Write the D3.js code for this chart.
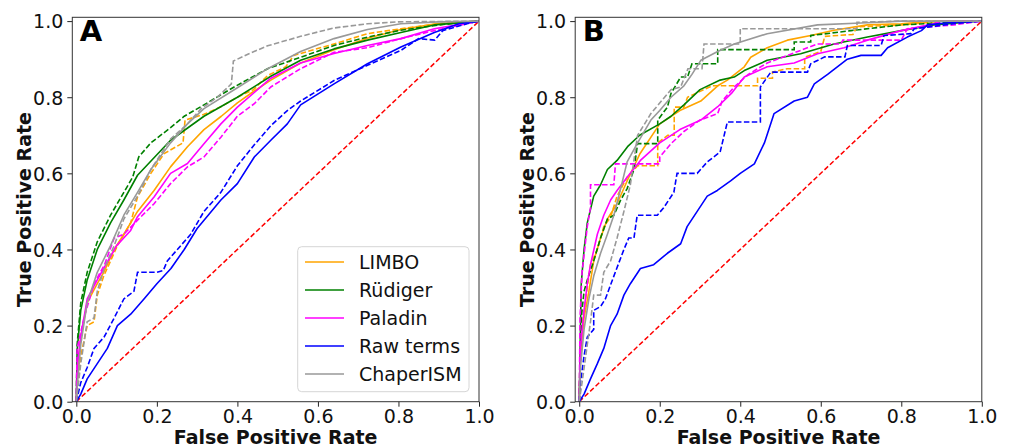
<!DOCTYPE html>
<html>
<head>
<meta charset="utf-8">
<script src="https://cdn.jsdelivr.net/npm/d3@7"></script>
<style>
  html, body { margin: 0; padding: 0; background: #fff; }
  svg { display: block; font-family: "DejaVu Sans", sans-serif; }
</style>
</head>
<body>
<svg id="chart" width="1011" height="448"></svg>
<script>
// ---------------- DATA ----------------
const panels = ["A", "B"];
const methods = ["LIMBO", "Rüdiger", "Paladin", "Raw terms", "ChaperISM"];
const methodColors = ["#ffa500", "#008000", "#ff00ff", "#0000ff", "#999999"];
const tickValues = [0, 0.2, 0.4, 0.6, 0.8, 1.0];
const tickLabels = ["0.0", "0.2", "0.4", "0.6", "0.8", "1.0"];
const xTitle = "False Positive Rate";
const yTitle = "True Positive Rate";
const chanceLine = [[0, 0], [1, 1]];

// Panel A  [FPR, TPR]
const limboA = [[0,0],[0.003,0.08],[0.011,0.17],[0.027,0.26],[0.052,0.31],[0.068,0.34],[0.094,0.40],[0.118,0.44],[0.152,0.50],[0.193,0.555],[0.234,0.617],[0.276,0.67],[0.317,0.715],[0.36,0.75],[0.4,0.785],[0.44,0.815],[0.483,0.845],[0.557,0.89],[0.64,0.925],[0.723,0.955],[0.806,0.978],[0.889,0.992],[1,1]];
const limboA_alt = [[0,0],[0.011,0.12],[0.027,0.20],[0.044,0.21],[0.052,0.28],[0.068,0.33],[0.102,0.41],[0.135,0.47],[0.152,0.538],[0.185,0.60],[0.218,0.652],[0.265,0.68],[0.27,0.74],[0.317,0.755],[0.359,0.775],[0.4,0.80],[0.44,0.82],[0.475,0.857],[0.52,0.88],[0.54,0.91],[0.64,0.94],[0.723,0.967],[0.806,0.98],[0.9,0.993],[1,1]];
const rudigerA = [[0,0],[0.002,0.135],[0.011,0.24],[0.027,0.32],[0.052,0.40],[0.085,0.47],[0.118,0.53],[0.152,0.595],[0.234,0.687],[0.317,0.75],[0.4,0.80],[0.483,0.855],[0.557,0.897],[0.64,0.927],[0.723,0.95],[0.806,0.97],[0.889,0.99],[1,1]];
const rudigerA_alt = [[0,0],[0.002,0.15],[0.011,0.26],[0.027,0.34],[0.052,0.42],[0.085,0.49],[0.118,0.55],[0.14,0.59],[0.155,0.643],[0.185,0.68],[0.234,0.72],[0.268,0.75],[0.317,0.78],[0.392,0.827],[0.475,0.875],[0.557,0.905],[0.64,0.936],[0.723,0.958],[0.806,0.976],[0.9,0.99],[1,1]];
const paladinA = [[0,0],[0.003,0.10],[0.011,0.17],[0.027,0.27],[0.052,0.32],[0.068,0.35],[0.1,0.41],[0.135,0.45],[0.152,0.486],[0.193,0.538],[0.234,0.60],[0.276,0.626],[0.317,0.678],[0.359,0.73],[0.4,0.774],[0.483,0.85],[0.557,0.89],[0.64,0.915],[0.723,0.936],[0.806,0.954],[0.889,0.98],[1,1]];
const paladinA_alt = [[0,0],[0.002,0.14],[0.019,0.22],[0.044,0.31],[0.07,0.36],[0.094,0.43],[0.118,0.44],[0.152,0.477],[0.193,0.52],[0.234,0.573],[0.276,0.617],[0.317,0.643],[0.359,0.695],[0.4,0.75],[0.442,0.783],[0.483,0.827],[0.557,0.875],[0.64,0.918],[0.723,0.93],[0.806,0.954],[0.889,0.975],[1,1]];
const rawA = [[0,0],[0.011,0.02],[0.027,0.06],[0.052,0.10],[0.077,0.14],[0.102,0.20],[0.135,0.23],[0.168,0.27],[0.2,0.31],[0.235,0.35],[0.268,0.40],[0.3,0.455],[0.359,0.53],[0.4,0.573],[0.442,0.643],[0.483,0.687],[0.524,0.73],[0.557,0.78],[0.64,0.835],[0.723,0.888],[0.806,0.932],[0.889,0.97],[0.95,0.993],[1,1]];
const rawA_alt = [[0,0],[0.011,0.05],[0.027,0.09],[0.044,0.14],[0.069,0.17],[0.094,0.22],[0.118,0.27],[0.143,0.29],[0.152,0.34],[0.2,0.34],[0.216,0.345],[0.226,0.37],[0.251,0.40],[0.284,0.44],[0.317,0.50],[0.359,0.55],[0.4,0.62],[0.442,0.675],[0.483,0.725],[0.524,0.765],[0.557,0.79],[0.64,0.844],[0.723,0.884],[0.806,0.923],[0.85,0.954],[0.89,0.95],[0.91,0.975],[0.97,0.993],[1,1]];
const chaperA = [[0,0],[0.003,0.05],[0.011,0.15],[0.027,0.26],[0.052,0.34],[0.085,0.41],[0.118,0.49],[0.152,0.55],[0.185,0.61],[0.234,0.68],[0.276,0.73],[0.317,0.77],[0.4,0.825],[0.475,0.875],[0.557,0.92],[0.64,0.954],[0.723,0.978],[0.806,0.993],[0.9,0.998],[1,1]];
const chaperA_alt = [[0,0],[0.011,0.10],[0.027,0.21],[0.044,0.22],[0.052,0.29],[0.069,0.35],[0.094,0.41],[0.118,0.48],[0.152,0.54],[0.185,0.61],[0.234,0.69],[0.276,0.73],[0.31,0.77],[0.35,0.80],[0.385,0.835],[0.39,0.895],[0.43,0.915],[0.475,0.935],[0.557,0.96],[0.64,0.982],[0.723,0.993],[0.8,0.998],[1,1]];

// Panel B  [FPR, TPR]
const limboB = [[0,0],[0.003,0.12],[0.012,0.22],[0.024,0.29],[0.036,0.37],[0.053,0.43],[0.07,0.48],[0.094,0.52],[0.119,0.58],[0.15,0.65],[0.2,0.73],[0.25,0.765],[0.302,0.79],[0.344,0.83],[0.368,0.845],[0.41,0.88],[0.426,0.905],[0.467,0.93],[0.517,0.95],[0.575,0.962],[0.633,0.976],[0.716,0.99],[0.8,0.993],[0.88,1],[1,1]];
const limboB_alt = [[0,0],[0.003,0.17],[0.016,0.27],[0.028,0.36],[0.045,0.40],[0.061,0.46],[0.078,0.485],[0.094,0.54],[0.119,0.59],[0.145,0.62],[0.195,0.62],[0.195,0.68],[0.22,0.70],[0.236,0.70],[0.236,0.774],[0.26,0.774],[0.269,0.80],[0.33,0.83],[0.443,0.83],[0.443,0.85],[0.48,0.85],[0.48,0.866],[0.517,0.875],[0.56,0.875],[0.56,0.905],[0.6,0.92],[0.61,0.96],[0.68,0.965],[0.69,0.985],[0.8,0.99],[0.9,1],[1,1]];
const rudigerB = [[0,0],[0.005,0.31],[0.012,0.40],[0.02,0.47],[0.036,0.54],[0.053,0.57],[0.07,0.61],[0.094,0.634],[0.12,0.67],[0.15,0.70],[0.2,0.73],[0.228,0.75],[0.26,0.78],[0.3,0.82],[0.35,0.845],[0.385,0.853],[0.41,0.87],[0.467,0.897],[0.55,0.914],[0.633,0.94],[0.716,0.958],[0.8,0.975],[0.88,0.99],[0.99,1],[1,1]];
const rudigerB_alt = [[0,0],[0.005,0.22],[0.012,0.29],[0.02,0.32],[0.036,0.37],[0.053,0.43],[0.07,0.48],[0.086,0.49],[0.103,0.53],[0.119,0.56],[0.136,0.61],[0.145,0.678],[0.195,0.678],[0.195,0.74],[0.219,0.774],[0.228,0.81],[0.252,0.853],[0.269,0.853],[0.28,0.888],[0.344,0.888],[0.344,0.925],[0.534,0.925],[0.534,0.945],[0.575,0.945],[0.575,0.962],[0.675,0.975],[0.8,0.99],[0.99,1],[1,1]];
const paladinB = [[0,0],[0.003,0.14],[0.012,0.24],[0.02,0.31],[0.028,0.36],[0.045,0.44],[0.061,0.49],[0.078,0.53],[0.094,0.555],[0.119,0.59],[0.152,0.634],[0.2,0.68],[0.25,0.715],[0.302,0.74],[0.344,0.775],[0.378,0.81],[0.41,0.853],[0.467,0.88],[0.534,0.89],[0.592,0.914],[0.658,0.93],[0.716,0.95],[0.8,0.975],[0.88,0.993],[0.9,1],[1,1]];
const paladinB_alt = [[0,0],[0.002,0.22],[0.007,0.34],[0.02,0.46],[0.028,0.51],[0.028,0.57],[0.086,0.57],[0.09,0.625],[0.2,0.625],[0.2,0.643],[0.228,0.678],[0.26,0.71],[0.3,0.74],[0.344,0.757],[0.355,0.79],[0.385,0.827],[0.42,0.86],[0.467,0.89],[0.53,0.915],[0.592,0.94],[0.65,0.94],[0.655,0.95],[0.8,0.95],[0.815,0.98],[0.93,0.99],[1,1]];
const rawB = [[0,0],[0.012,0.02],[0.028,0.06],[0.045,0.10],[0.061,0.14],[0.078,0.20],[0.094,0.23],[0.111,0.28],[0.127,0.31],[0.152,0.35],[0.185,0.36],[0.219,0.39],[0.252,0.415],[0.268,0.46],[0.293,0.50],[0.318,0.54],[0.343,0.555],[0.376,0.58],[0.4,0.60],[0.435,0.625],[0.46,0.68],[0.484,0.757],[0.534,0.79],[0.567,0.80],[0.584,0.835],[0.617,0.86],[0.666,0.90],[0.7,0.91],[0.75,0.91],[0.766,0.93],[0.815,0.958],[0.85,0.975],[0.865,0.99],[0.93,0.997],[1,1]];
const rawB_alt = [[0,0],[0.003,0.05],[0.012,0.12],[0.02,0.17],[0.036,0.19],[0.036,0.24],[0.053,0.25],[0.065,0.27],[0.086,0.33],[0.111,0.40],[0.123,0.43],[0.136,0.43],[0.144,0.49],[0.194,0.49],[0.21,0.51],[0.235,0.55],[0.243,0.60],[0.293,0.60],[0.318,0.63],[0.35,0.656],[0.368,0.735],[0.45,0.735],[0.45,0.827],[0.476,0.866],[0.567,0.866],[0.575,0.888],[0.61,0.906],[0.66,0.906],[0.666,0.936],[0.75,0.936],[0.757,0.962],[0.824,0.967],[0.832,0.98],[0.93,0.993],[1,1]];
const chaperB = [[0,0],[0.003,0.09],[0.012,0.19],[0.024,0.27],[0.036,0.33],[0.053,0.39],[0.07,0.44],[0.086,0.49],[0.103,0.56],[0.119,0.63],[0.145,0.68],[0.178,0.74],[0.2,0.765],[0.228,0.80],[0.26,0.83],[0.28,0.86],[0.302,0.897],[0.344,0.92],[0.385,0.94],[0.467,0.967],[0.592,0.99],[0.7,0.995],[0.8,1],[1,1]];
const chaperB_alt = [[0,0],[0.007,0.05],[0.02,0.15],[0.028,0.21],[0.036,0.28],[0.053,0.28],[0.061,0.34],[0.078,0.37],[0.094,0.43],[0.111,0.50],[0.127,0.57],[0.145,0.70],[0.178,0.757],[0.228,0.82],[0.252,0.827],[0.27,0.875],[0.305,0.875],[0.31,0.94],[0.40,0.94],[0.40,0.98],[0.69,0.98],[0.69,0.997],[0.8,1],[1,1]];

const solidSeries = { A: [limboA, rudigerA, paladinA, rawA, chaperA], B: [limboB, rudigerB, paladinB, rawB, chaperB] };
const dashedSeries = { A: [limboA_alt, rudigerA_alt, paladinA_alt, rawA_alt, chaperA_alt], B: [limboB_alt, rudigerB_alt, paladinB_alt, rawB_alt, chaperB_alt] };

// ---------------- LAYOUT ----------------
const svg = d3.select("#chart");
svg.append("rect").attr("width", 1011).attr("height", 448).attr("fill", "#fff");

const frames = { A: { left: 72.3, right: 479 }, B: { left: 575.2, right: 981.8 } };
const plotTop = 17.3, plotBottom = 401.7;
const FS = 19;

panels.forEach((p) => {
  const f = frames[p];
  const x = d3.scaleLinear().domain([-0.01, 1.0]).range([f.left, f.right]);
  const y = d3.scaleLinear().domain([0, 1.01]).range([plotBottom, plotTop]);
  const g = svg.append("g");

  const clipId = "clip" + p;
  svg.append("clipPath").attr("id", clipId).append("rect")
    .attr("x", f.left).attr("y", plotTop).attr("width", f.right - f.left).attr("height", plotBottom - plotTop);

  const line = d3.line().x(d => x(d[0])).y(d => y(d[1]));
  const plot = g.append("g").attr("clip-path", `url(#${clipId})`);

  plot.append("path").datum(chanceLine).attr("d", line)
    .attr("fill", "none").attr("stroke", "#ff0000").attr("stroke-width", 1.5)
    .attr("stroke-dasharray", "5,2.5");

  methods.forEach((m, i) => {
    plot.append("path").datum(solidSeries[p][i]).attr("d", line)
      .attr("fill", "none").attr("stroke", methodColors[i]).attr("stroke-width", 1.6)
      .attr("stroke-linejoin", "round");
    plot.append("path").datum(dashedSeries[p][i]).attr("d", line)
      .attr("fill", "none").attr("stroke", methodColors[i]).attr("stroke-width", 1.6)
      .attr("stroke-dasharray", "5.5,2.4");
  });

  const xAxis = d3.axisBottom(x).tickValues(tickValues).tickFormat((d, i) => tickLabels[i]).tickSize(5).tickPadding(3);
  const yAxis = d3.axisLeft(y).tickValues(tickValues).tickFormat((d, i) => tickLabels[i]).tickSize(5).tickPadding(4);
  const gx = g.append("g").attr("transform", `translate(0,${plotBottom})`).call(xAxis);
  const gy = g.append("g").attr("transform", `translate(${f.left},0)`).call(yAxis);
  [gx, gy].forEach(a => {
    a.select(".domain").remove();
    a.selectAll(".tick line").attr("stroke", "#222").attr("stroke-width", 1);
    a.selectAll(".tick text").attr("fill", "#111").style("font-size", FS + "px")
      .style("font-family", "'DejaVu Sans', sans-serif");
  });
  gx.selectAll(".tick text").attr("dy", null).attr("y", 21.5);
  gy.selectAll(".tick text").attr("dy", "0.36em");

  g.append("rect").attr("x", f.left).attr("y", plotTop).attr("width", f.right - f.left).attr("height", plotBottom - plotTop)
    .attr("fill", "none").attr("stroke", "#333").attr("stroke-width", 1);

  g.append("text").attr("x", (f.left + f.right) / 2).attr("y", 444)
    .attr("text-anchor", "middle").style("font-size", FS + "px").style("font-weight", "bold")
    .attr("fill", "#111").text(xTitle);
  const ylx = f.left - 41;
  g.append("text").attr("transform", `translate(${ylx},${(plotTop + plotBottom) / 2}) rotate(-90)`)
    .attr("text-anchor", "middle").style("font-size", FS + "px").style("font-weight", "bold")
    .attr("fill", "#111").text(yTitle);

  g.append("text").attr("x", f.left + 7.5).attr("y", 40.5)
    .style("font-size", "29px").style("font-weight", "bold").attr("fill", "#000").text(p);

  if (p === "A") {
    const lg = g.append("g");
    lg.append("rect").attr("x", 297.7).attr("y", 246.7).attr("width", 171.3).attr("height", 145)
      .attr("rx", 4).attr("fill", "#fff").attr("fill-opacity", 0.8)
      .attr("stroke", "#d6d6d6").attr("stroke-width", 1);
    methods.forEach((m, i) => {
      const cy = 262 + i * 28;
      lg.append("line").attr("x1", 305).attr("x2", 344).attr("y1", cy).attr("y2", cy)
        .attr("stroke", methodColors[i]).attr("stroke-width", 1.6);
      lg.append("text").attr("x", 359).attr("y", cy + 7).style("font-size", FS + "px")
        .attr("fill", "#111").text(m);
    });
  }
});
</script>
</body>
</html>
